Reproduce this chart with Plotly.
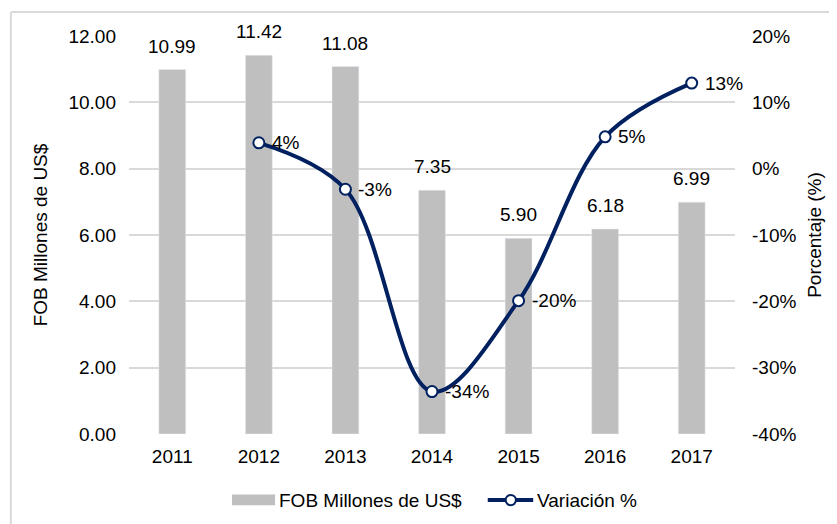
import plotly.graph_objects as go

years = ["2011", "2012", "2013", "2014", "2015", "2016", "2017"]
fob = [10.99, 11.42, 11.08, 7.35, 5.90, 6.18, 6.99]
var_years = ["2012", "2013", "2014", "2015", "2016", "2017"]
variacion = [3.9, -3.1, -33.6, -19.9, 4.8, 12.9]
var_labels = ["4%", "-3%", "-34%", "-20%", "5%", "13%"]
pct_ticks = [-40, -30, -20, -10, 0, 10, 20]

FONT = "Liberation Sans, Arial, sans-serif"
NAVY = "#002060"
FS = 19

fig = go.Figure()

fig.add_trace(go.Bar(
    x=years, y=fob,
    name="FOB Millones de US$",
    marker=dict(color="#BFBFBF"),
    width=0.31,
    showlegend=False,
))

fig.add_trace(go.Scatter(
    x=var_years, y=variacion,
    name="Variación %",
    yaxis="y2",
    mode="lines+markers",
    line=dict(color=NAVY, width=4, shape="spline", smoothing=1),
    marker=dict(size=11, color="white", line=dict(color=NAVY, width=2)),
    cliponaxis=False,
    showlegend=False,
))

# valores sobre las barras
annotations = [
    dict(x=i, y=v, xref="x", yref="y", text=f"{v:.2f}", showarrow=False,
         xanchor="center", yanchor="bottom", yshift=11,
         font=dict(size=FS, color="#000000"))
    for i, v in enumerate(fob)
]

# etiquetas de la variación a la derecha de cada punto
# (x como índice de categoría, si no plotly lo lee como número)
annotations += [
    dict(x=years.index(x), y=y, xref="x", yref="y2", text=t, showarrow=False,
         xanchor="left", yanchor="middle", xshift=11,
         font=dict(size=FS, color="#000000"))
    for x, y, t in zip(var_years, variacion, var_labels)
]

# leyenda manual
LEG_Y = -0.166
annotations += [
    dict(x=0.244, y=LEG_Y, xref="paper", yref="paper", text="FOB Millones de US$",
         showarrow=False, xanchor="left", yanchor="middle", font=dict(size=FS)),
    dict(x=0.670, y=LEG_Y, xref="paper", yref="paper", text="Variación %",
         showarrow=False, xanchor="left", yanchor="middle", font=dict(size=FS)),
]

shapes = [
    # borde del gráfico
    dict(type="line", xref="paper", yref="paper",
         x0=-0.195, x1=-0.195, y0=-0.3, y1=1.06,
         line=dict(color="#D9D9D9", width=2)),
    dict(type="line", xref="paper", yref="paper",
         x0=-0.195, x1=1.2, y0=1.06, y1=1.06,
         line=dict(color="#D9D9D9", width=2)),
    # símbolos de la leyenda
    dict(type="rect", xref="paper", yref="paper",
         x0=0.170, x1=0.241, y0=-0.179, y1=-0.152,
         fillcolor="#BFBFBF", line=dict(width=0)),
    dict(type="line", xref="paper", yref="paper",
         x0=0.592, x1=0.667, y0=LEG_Y, y1=LEG_Y,
         line=dict(color=NAVY, width=4)),
    dict(type="circle", xref="paper", yref="paper",
         x0=0.630 - 0.0085, x1=0.630 + 0.0085, y0=LEG_Y - 0.013, y1=LEG_Y + 0.013,
         fillcolor="white", line=dict(color=NAVY, width=2)),
]

fig.update_layout(
    width=837, height=524,
    margin=dict(l=121, r=110, t=28, b=98),
    paper_bgcolor="white",
    plot_bgcolor="white",
    font=dict(family=FONT, size=FS, color="#000000"),
    bargap=0.69,
    showlegend=False,
    xaxis=dict(
        type="category", range=[-0.5, len(years) - 0.5],
        showgrid=False, showline=False, ticks="",
        tickfont=dict(size=FS), ticklabelstandoff=9,
    ),
    yaxis=dict(
        range=[0, 12], dtick=2, tickformat=".2f",
        showgrid=True, gridcolor="#D9D9D9", gridwidth=1.5,
        zeroline=False, showline=False, ticks="",
        ticklabelstandoff=12,
        title=dict(text="FOB Millones de US$", font=dict(size=FS), standoff=15),
    ),
    yaxis2=dict(
        overlaying="y", side="right",
        range=[-40, 20],
        tickvals=pct_ticks, ticktext=[f"{v}%" for v in pct_ticks],
        showgrid=False, zeroline=False, showline=False, ticks="",
        ticklabelstandoff=16,
        title=dict(text="Porcentaje (%)", font=dict(size=FS), standoff=12),
    ),
    annotations=annotations,
    shapes=shapes,
)

fig.write_html("out.html")
